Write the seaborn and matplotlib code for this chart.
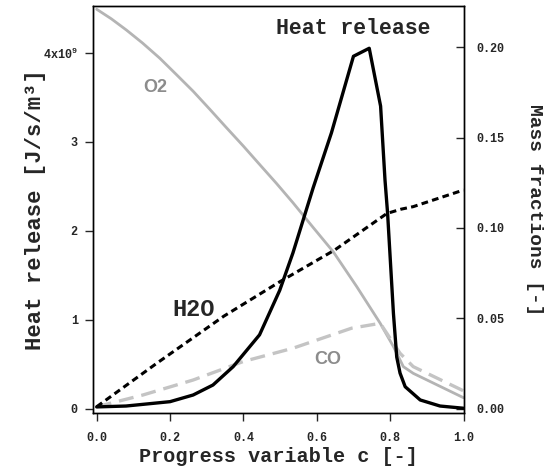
import numpy as np
import pandas as pd
import seaborn as sns
import matplotlib
matplotlib.use("Agg")
import matplotlib.pyplot as plt

# values
c_hr = [0.0, 0.08, 0.2, 0.263, 0.317, 0.372, 0.444, 0.499, 0.535, 0.59, 0.64,
        0.70, 0.743, 0.774, 0.786, 0.793, 0.809, 0.818, 0.827, 0.841, 0.882, 0.936, 1.0]
heat_release = [0.02, 0.03, 0.079, 0.154, 0.266, 0.472, 0.83, 1.33, 1.75, 2.48, 3.10,
                3.96, 4.05, 3.40, 2.57, 2.20, 1.07, 0.58, 0.40, 0.247, 0.098, 0.03, 0.005]   # x1e9 J/s/m3

c_o2 = [0.0, 0.04, 0.081, 0.125, 0.172, 0.217, 0.263, 0.308, 0.353, 0.4, 0.444, 0.49,
        0.535, 0.59, 0.645, 0.709, 0.773, 0.809, 0.836, 0.863, 1.0]
y_o2 = [0.2211, 0.2158, 0.2096, 0.2024, 0.1940, 0.1850, 0.1757, 0.1658, 0.1557, 0.1453,
        0.1352, 0.1247, 0.1140, 0.1003, 0.0868, 0.0675, 0.0472, 0.0343, 0.0232, 0.0195, 0.0060]

c_co = [0.0, 0.126, 0.263, 0.399, 0.535, 0.695, 0.773, 0.827, 0.863, 1.0]
y_co = [0.001, 0.0075, 0.0158, 0.026, 0.0334, 0.0445, 0.0472, 0.0306, 0.0232, 0.0098]

c_h2o = [0.0, 0.164, 0.347, 0.5, 0.649, 0.791, 0.83, 0.863, 1.0]
y_h2o = [0.001, 0.0251, 0.0512, 0.0703, 0.0878, 0.108, 0.1104, 0.1118, 0.121]

x_ticks = [0.0, 0.2, 0.4, 0.6, 0.8, 1.0]
hr_ticks = [0, 1, 2, 3, 4]
hr_ticklabels = ["0", "1", "2", "3", "4x10$^9$"]
mf_ticks = [0.0, 0.05, 0.10, 0.15, 0.20]

sns.set_style("ticks")
mono = ["Liberation Mono", "DejaVu Sans Mono"]
plt.rcParams["font.family"] = mono
plt.rcParams["font.weight"] = "bold"
plt.rcParams["mathtext.fontset"] = "custom"
plt.rcParams["mathtext.rm"] = "Liberation Mono:bold"
plt.rcParams["mathtext.it"] = "Liberation Mono:bold"
plt.rcParams["mathtext.bf"] = "Liberation Mono:bold"
plt.rcParams["mathtext.default"] = "rm"

fig = plt.figure(figsize=(5.44, 4.74), dpi=100)
ax = fig.add_axes([93 / 544, 61.3 / 474, 370.5 / 544, 406.7 / 474])
ax2 = ax.twinx()

df_hr = pd.DataFrame({"c": c_hr, "hr": heat_release})
sns.lineplot(data=df_hr, x="c", y="hr", ax=ax, color="black", lw=2.4, sort=False)

sns.lineplot(x=c_o2, y=y_o2, ax=ax2, color="#b4b4b4", lw=2.0, sort=False)
sns.lineplot(x=c_co, y=y_co, ax=ax2, color="#c4c4c4", lw=2.4, sort=False).lines[-1].set_dashes((4.5, 2.4))
sns.lineplot(x=c_h2o, y=y_h2o, ax=ax2, color="black", lw=2.2, sort=False).lines[-1].set_dashes((2.2, 1.4))

ax.set_xlim(-0.01, 1.0)
ax.set_ylim(-0.045, 4.525)
ax2.set_ylim(-0.0023, 0.2229)

ax.set_xticks(x_ticks)
ax.set_xticklabels([f"{v:.1f}" for v in x_ticks])
ax.set_yticks(hr_ticks)
ax.set_yticklabels(hr_ticklabels)
ax2.set_yticks(mf_ticks)
ax2.set_yticklabels([f"{v:.2f}" for v in mf_ticks])

ax.tick_params(axis="x", direction="out", length=6, width=1, pad=8, labelsize=8.5)
ax.tick_params(axis="y", direction="out", length=6, width=1, pad=5, labelsize=8.5)
ax2.tick_params(axis="y", direction="in", length=6, width=1, pad=9, labelsize=8.5)

for a in (ax, ax2):
    for s in a.spines.values():
        s.set_linewidth(1.0)
        s.set_color("black")

ax.set_xlabel("Progress variable c [-]", fontsize=14.5, fontweight="bold", labelpad=2)
ax.set_ylabel("Heat release [J/s/m³]", fontsize=16, fontweight="bold")
ax.yaxis.set_label_coords(-0.127, 0.5)
ax2.set_ylabel("Mass fractions [-]", fontsize=14, fontweight="bold", rotation=270,
               labelpad=28)

ax.text(0.699, 4.27, "Heat release", fontsize=15.5, fontweight="bold", family=mono,
        ha="center", va="center")
ax.text(0.159, 3.61, "O2", fontsize=13, color="#8c8c8c", family="Liberation Sans",
        ha="center", va="center")
ax.text(0.263, 1.11, "H2O", fontsize=17, fontweight="bold", family=mono,
        ha="center", va="center")
ax.text(0.631, 0.55, "CO", fontsize=13, color="#8c8c8c", family="Liberation Sans",
        ha="center", va="center")

ax.set_zorder(ax2.get_zorder() + 1)
ax.patch.set_visible(False)

fig.savefig("out.png", dpi=100)
